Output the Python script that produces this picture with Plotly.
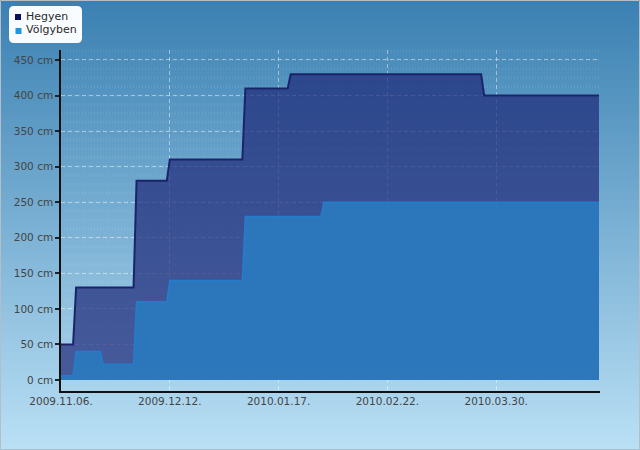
import plotly.graph_objects as go

# ---- data ----
hegyen_dates = ["2009-11-06", "2009-11-10", "2009-11-11", "2009-11-30", "2009-12-01",
                "2009-12-11", "2009-12-12", "2010-01-05", "2010-01-06", "2010-01-20",
                "2010-01-21", "2010-03-25", "2010-03-26", "2010-05-03"]
hegyen_cm = [50, 50, 130, 130, 280, 280, 310, 310, 410, 410, 430, 430, 400, 400]

volgyben_dates = ["2009-11-06", "2009-11-10", "2009-11-11", "2009-11-19", "2009-11-20",
                  "2009-11-30", "2009-12-01", "2009-12-11", "2009-12-12", "2010-01-05",
                  "2010-01-06", "2010-01-31", "2010-02-01", "2010-05-03"]
volgyben_cm = [6, 6, 40, 40, 22, 22, 110, 110, 140, 140, 230, 230, 250, 250]

x_tickvals = ["2009-11-06", "2009-12-12", "2010-01-17", "2010-02-22", "2010-03-30"]
x_ticktext = ["2009.11.06.", "2009.12.12.", "2010.01.17.", "2010.02.22.", "2010.03.30."]
y_tickvals = [0, 50, 100, 150, 200, 250, 300, 350, 400, 450]
y_ticktext = ["0 cm", "50 cm", "100 cm", "150 cm", "200 cm", "250 cm", "300 cm",
              "350 cm", "400 cm", "450 cm"]

# ---- geometry ----
W, H = 640, 450
L, R, T, B = 61, 600, 50, 391


def px(x):
    return (x - L) / (R - L)


def py(y):
    return (B - y) / (B - T)


FONT = "DejaVu Sans"

fig = go.Figure()
fig.add_trace(go.Scatter(
    x=hegyen_dates, y=hegyen_cm, name="Hegyen", mode="lines",
    line=dict(color="rgb(28,36,105)", width=2),
    fill="tozeroy", fillcolor="rgba(30,40,120,0.70)", showlegend=False,
))
fig.add_trace(go.Scatter(
    x=volgyben_dates, y=volgyben_cm, name="Völgyben", mode="lines",
    line=dict(color="rgb(35,125,205)", width=1.5),
    fill="tozeroy", fillcolor="rgba(44,121,188,0.96)", showlegend=False,
))

shapes = []
# background gradient
top_c = (58, 128, 178)
bot_c = (186, 224, 245)
step = 3
for i in range(0, H, step):
    t = (i + step / 2) / H
    c = tuple(round(top_c[k] + (bot_c[k] - top_c[k]) * t) for k in range(3))
    shapes.append(dict(type="rect", xref="paper", yref="paper",
                       x0=px(0), x1=px(W), y0=py(i + step), y1=py(i),
                       fillcolor="rgb(%d,%d,%d)" % c, line=dict(width=0), layer="below"))
# plot-area texture rows
v = -12.5
while v <= 462.5:
    shapes.append(dict(type="line", xref="paper", yref="y", x0=0, x1=1, y0=v, y1=v,
                       line=dict(color="rgba(255,255,255,0.09)", width=3, dash="1px,2px"),
                       layer="below"))
    v += 12.5
# outer border
shapes.append(dict(type="rect", xref="paper", yref="paper",
                   x0=px(0.5), x1=px(W - 0.5), y0=py(H - 0.5), y1=py(0.5),
                   line=dict(color="rgb(180,190,198)", width=1), fillcolor="rgba(0,0,0,0)",
                   layer="above"))
# legend box (rounded)
bx0, bx1, by0, by1, r = 9, 82, 6, 43, 5
rx, ry = r / (R - L), r / (B - T)
X0, X1, Y0, Y1 = px(bx0), px(bx1), py(by0), py(by1)
path = (f"M{X0+rx},{Y0} L{X1-rx},{Y0} Q{X1},{Y0} {X1},{Y0-ry} L{X1},{Y1+ry} "
        f"Q{X1},{Y1} {X1-rx},{Y1} L{X0+rx},{Y1} Q{X0},{Y1} {X0},{Y1+ry} "
        f"L{X0},{Y0-ry} Q{X0},{Y0} {X0+rx},{Y0} Z")
shapes.append(dict(type="path", xref="paper", yref="paper", path=path,
                   fillcolor="rgb(248,252,255)", line=dict(width=0), layer="above"))
# legend markers
for (cx, cy, col) in [(18, 17, "rgb(12,14,96)"), (18.5, 31, "rgb(33,150,224)")]:
    shapes.append(dict(type="rect", xref="paper", yref="paper",
                       x0=px(cx - 3), x1=px(cx + 3), y0=py(cy + 3), y1=py(cy - 3),
                       fillcolor=col, line=dict(width=0), layer="above"))

annotations = []
for (ty, txt) in [(16, "Hegyen"), (29.5, "Völgyben")]:
    annotations.append(dict(xref="paper", yref="paper", x=px(24), y=py(ty), text=txt,
                            showarrow=False, xanchor="left", yanchor="middle",
                            font=dict(family=FONT, size=11, color="#2a2a2a")))

fig.update_layout(
    width=W, height=H,
    margin=dict(l=L, r=W - R, t=T, b=H - B, pad=0),
    paper_bgcolor="rgb(120,175,210)",
    plot_bgcolor="rgba(0,0,0,0)",
    shapes=shapes, annotations=annotations,
    showlegend=False,
    font=dict(family=FONT, size=10.5, color="#444"),
)
fig.update_xaxes(
    type="date", range=["2009-11-06", "2010-05-03 08:00"],
    tickvals=x_tickvals, ticktext=x_ticktext, ticks="",
    showgrid=True, gridcolor="rgba(255,255,255,0.45)", griddash="4px,3px", gridwidth=1,
    showline=True, linecolor="#111", linewidth=1.5, zeroline=False,
    tickfont=dict(family=FONT, size=10.5, color="#444"),
)
fig.update_yaxes(
    range=[-15.5, 464], tickvals=y_tickvals, ticktext=y_ticktext,
    ticks="outside", ticklen=4, tickcolor="#222", tickwidth=1.5,
    showgrid=True, gridcolor="rgba(255,255,255,0.45)", griddash="4px,3px", gridwidth=1,
    showline=True, linecolor="#111", linewidth=1.5, zeroline=False,
    tickfont=dict(family=FONT, size=10.5, color="#444"),
)

fig.write_html("out.html")
